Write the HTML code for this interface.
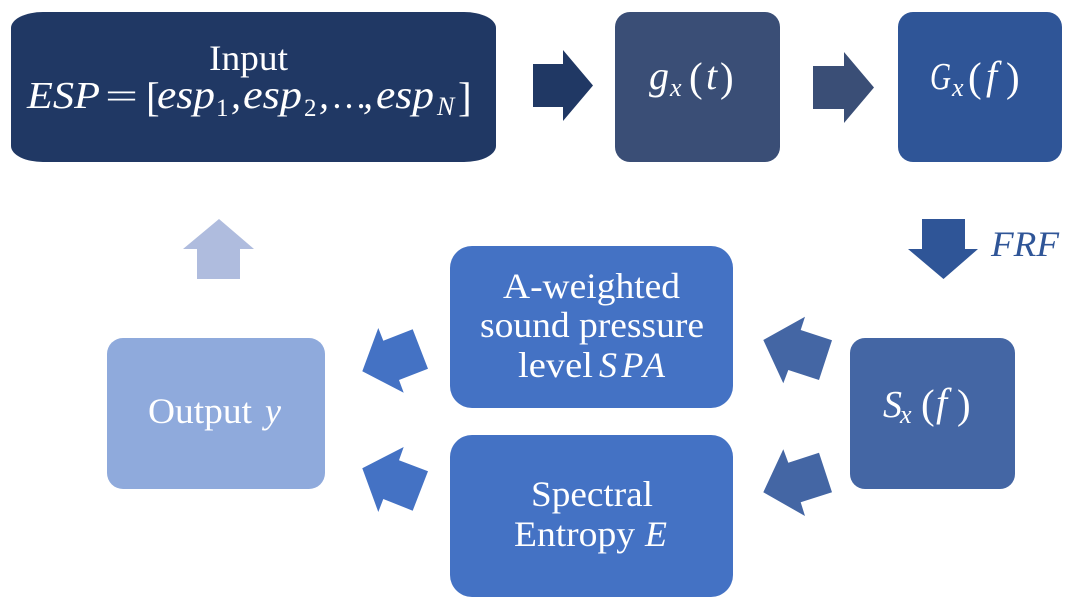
<!DOCTYPE html>
<html>
<head>
<meta charset="utf-8">
<style>
html,body{margin:0;padding:0;background:#fff;width:1081px;height:608px;overflow:hidden}
svg{display:block}
text{font-family:"Liberation Serif",serif;fill:#fff;font-size:36px}
.i{font-style:italic}
.m{font-style:italic;font-size:40px}
.c{font-style:italic;font-size:38px}
.p{font-size:41px}
.s{font-size:26px;font-style:italic}
.n{font-size:25px}
</style>
</head>
<body>
<svg width="1081" height="608" viewBox="0 0 1081 608" xmlns="http://www.w3.org/2000/svg">
<!-- boxes -->
<rect x="11" y="12" width="485" height="150" rx="32" ry="16" fill="#203864"/>
<rect x="615" y="12" width="165" height="150" rx="15" ry="15" fill="#3A4E76"/>
<rect x="898" y="12" width="164" height="150" rx="15" ry="15" fill="#2F5597"/>
<rect x="450" y="246" width="283" height="162" rx="22" ry="22" fill="#4472C4"/>
<rect x="450" y="435" width="283" height="162" rx="22" ry="22" fill="#4472C4"/>
<rect x="107" y="338" width="218" height="151" rx="16" ry="16" fill="#8FAADC"/>
<rect x="850" y="338" width="165" height="151" rx="15" ry="15" fill="#4466A4"/>
<!-- arrows -->
<polygon points="533,64 563,64 563,50 593,85.5 563,121 563,107 533,107" fill="#203864"/>
<polygon points="813,66 844,66 844,52 874,87.5 844,123 844,109 813,109" fill="#3A4E76"/>
<polygon points="922,219 965,219 965,249 978,249 943.5,279 908,249 922,249" fill="#2F5597"/>
<polygon points="219,219 254,249 240,249 240,279 197,279 197,249 183,249" fill="#AFBCDE"/>
<polygon points="378.3,328 383.3,340.7 412.7,329.3 428,368.7 399,380 403.7,392.7 362.3,371.3" fill="#4472C4"/>
<polygon points="403.7,447 399,460.3 428,471.3 412.7,510.7 383.3,499 378.3,512 362.3,468.3" fill="#4472C4"/>
<polygon points="805,316.7 800.7,330 832,340.3 819,380 788.3,370 783.3,383.3 763.3,340" fill="#4466A4"/>
<polygon points="783.3,449.3 788.3,462.7 819,452.7 832,492.3 800.7,502.3 805,516 763.3,492.3" fill="#4466A4"/>
<!-- input -->
<text x="209" y="70" textLength="79" lengthAdjust="spacingAndGlyphs">Input</text>
<text x="27" y="108" class="c" textLength="73" lengthAdjust="spacingAndGlyphs">ESP</text>
<text x="105" y="108" textLength="33" lengthAdjust="spacingAndGlyphs">=</text>
<text x="146" y="111" class="p">[</text>
<text x="157" y="108" class="m" textLength="58" lengthAdjust="spacingAndGlyphs">esp</text>
<text x="216" y="116" class="n">1</text>
<text x="231" y="108" class="m">,</text>
<text x="243" y="108" class="m" textLength="59" lengthAdjust="spacingAndGlyphs">esp</text>
<text x="304" y="116" class="n">2</text>
<text x="319" y="108" class="m">,</text>
<text x="331" y="108">…</text>
<text x="363" y="108" class="m">,</text>
<text x="376" y="108" class="m" textLength="58" lengthAdjust="spacingAndGlyphs">esp</text>
<text x="437" y="115" class="s">N</text>
<text x="458" y="111" class="p">]</text>
<!-- g -->
<text x="649" y="89" class="m">g</text>
<text x="670" y="96" class="s">x</text>
<text x="689" y="91" class="p">(</text>
<text x="706" y="89" class="m">t</text>
<text x="720" y="91" class="p">)</text>
<!-- G -->
<text x="930" y="89" class="c" textLength="21" lengthAdjust="spacingAndGlyphs">G</text>
<text x="952" y="96" class="s">x</text>
<text x="968" y="91" class="p">(</text>
<text x="986" y="89" class="m">f</text>
<text x="1006" y="91" class="p">)</text>
<!-- FRF -->
<text x="991" y="256" class="i" style="fill:#2F5597" textLength="68" lengthAdjust="spacingAndGlyphs">FRF</text>
<!-- SPA -->
<text x="503" y="298" textLength="177" lengthAdjust="spacingAndGlyphs">A-weighted</text>
<text x="480" y="337" textLength="224" lengthAdjust="spacingAndGlyphs">sound pressure</text>
<text x="518" y="377" textLength="75" lengthAdjust="spacingAndGlyphs">level</text>
<text x="599" y="377" class="i" textLength="66">SPA</text>
<!-- Entropy -->
<text x="531" y="506" textLength="122" lengthAdjust="spacingAndGlyphs">Spectral</text>
<text x="514" y="546" textLength="121" lengthAdjust="spacingAndGlyphs">Entropy</text>
<text x="645" y="546" class="i">E</text>
<!-- Output -->
<text x="148" y="423" textLength="104" lengthAdjust="spacingAndGlyphs">Output</text>
<text x="265" y="423" class="i">y</text>
<!-- S -->
<text x="883" y="417" class="c">S</text>
<text x="900" y="423" class="s">x</text>
<text x="921" y="418" class="p">(</text>
<text x="936" y="416" class="m">f</text>
<text x="957" y="418" class="p">)</text>
</svg>
</body>
</html>
